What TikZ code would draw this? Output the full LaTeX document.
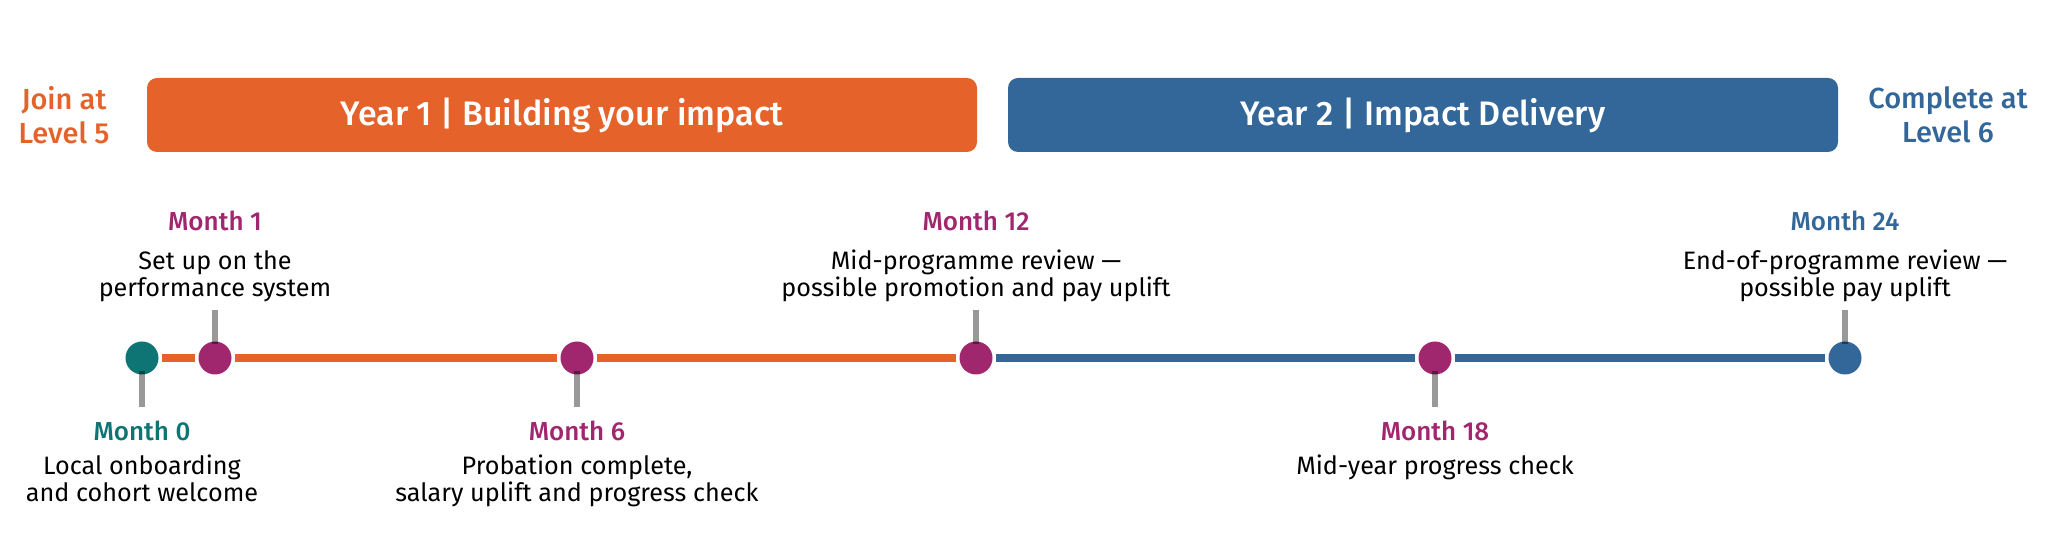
\documentclass[tikz,border=0pt]{standalone}
\usepackage{fontspec}
\setmainfont{Fira Sans}[BoldFont={Fira Sans Medium}]
\usetikzlibrary{positioning}

\definecolor{yearone}{HTML}{E5632A}
\definecolor{yeartwo}{HTML}{336699}
\definecolor{monthpink}{HTML}{A0266E}
\definecolor{monthteal}{HTML}{0E7474}

\tikzset{
  yearbox/.style={rounded corners=5pt, minimum width=415pt, minimum height=37pt,
    text=white, font=\fontsize{17pt}{19pt}\selectfont\bfseries},
  levellabel/.style={align=center, inner sep=0pt,
    font=\fontsize{14.5pt}{17pt}\selectfont\bfseries},
  dot/.style={circle, inner sep=0pt, outer sep=0pt, minimum size=16.5pt},
  track/.style={line width=3.8pt, shorten <=1.7pt, shorten >=1.7pt},
  stem/.style={line width=3pt, black, opacity=0.4, shorten <=-1.5pt},
  title/.style={anchor=base, inner sep=0pt, font=\fontsize{13pt}{14pt}\selectfont\bfseries},
  desc/.style={align=center, inner sep=0pt, font=\fontsize{12.6pt}{13.5pt}\selectfont}
}

\begin{document}
\begin{tikzpicture}[x=0.5pt,y=-0.5pt]
  \useasboundingbox (0,0) rectangle (2047,560);

  % year bars
  \node [yearbox, fill=yearone] (year1) at (562,115) {Year 1 | Building your impact};
  \node [yearbox, fill=yeartwo] (year2) at (1423,115) {Year 2 | Impact Delivery};
  \node [levellabel, text=yearone] (join) at (64,115) {Join at\\Level 5};
  \node [levellabel, text=yeartwo] (complete) at (1948,115) {Complete at\\Level 6};

  % milestones on the line
  \node [dot, fill=monthteal] (m0) at (142,358) {};
  \node [dot, fill=monthpink] (m1) at (215,358) {};
  \node [dot, fill=monthpink] (m6) at (577,358) {};
  \node [dot, fill=monthpink] (m12) at (976,358) {};
  \node [dot, fill=monthpink] (m18) at (1435,358) {};
  \node [dot, fill=yeartwo] (m24) at (1845,358) {};

  \draw [track, yearone] (m0) -- (m1);
  \draw [track, yearone] (m1) -- (m6);
  \draw [track, yearone] (m6) -- (m12);
  \draw [track, yeartwo] (m12) -- (m18);
  \draw [track, yeartwo] (m18) -- (m24);

  % stems
  \coordinate (s0) at (142,407);
  \coordinate (s1) at (215,310);
  \coordinate (s6) at (577,407);
  \coordinate (s12) at (976,310);
  \coordinate (s18) at (1435,407);
  \coordinate (s24) at (1845,310);
  \draw [stem] (m0) -- (s0);
  \draw [stem] (m1) -- (s1);
  \draw [stem] (m6) -- (s6);
  \draw [stem] (m12) -- (s12);
  \draw [stem] (m18) -- (s18);
  \draw [stem] (m24) -- (s24);

  % labels above
  \node [title, text=monthpink] (t1) at (215,231) {Month 1};
  \node [desc, below=9pt of t1] (d1) {Set up on the\\performance system};
  \node [title, text=monthpink] (t12) at (976,231) {Month 12};
  \node [desc, below=9pt of t12] (d12) {Mid-programme review ---\\possible promotion and pay uplift};
  \node [title, text=yeartwo] (t24) at (1845,231) {Month 24};
  \node [desc, below=9pt of t24] (d24) {End-of-programme review ---\\possible pay uplift};

  % labels below
  \node [title, text=monthteal] (t0) at (142,441) {Month 0};
  \node [desc, below=6.3pt of t0] (d0) {Local onboarding\\and cohort welcome};
  \node [title, text=monthpink] (t6) at (577,441) {Month 6};
  \node [desc, below=6.3pt of t6] (d6) {Probation complete,\\salary uplift and progress check};
  \node [title, text=monthpink] (t18) at (1435,441) {Month 18};
  \node [desc, below=6.3pt of t18] (d18) {Mid-year progress check};
\end{tikzpicture}
\end{document}
